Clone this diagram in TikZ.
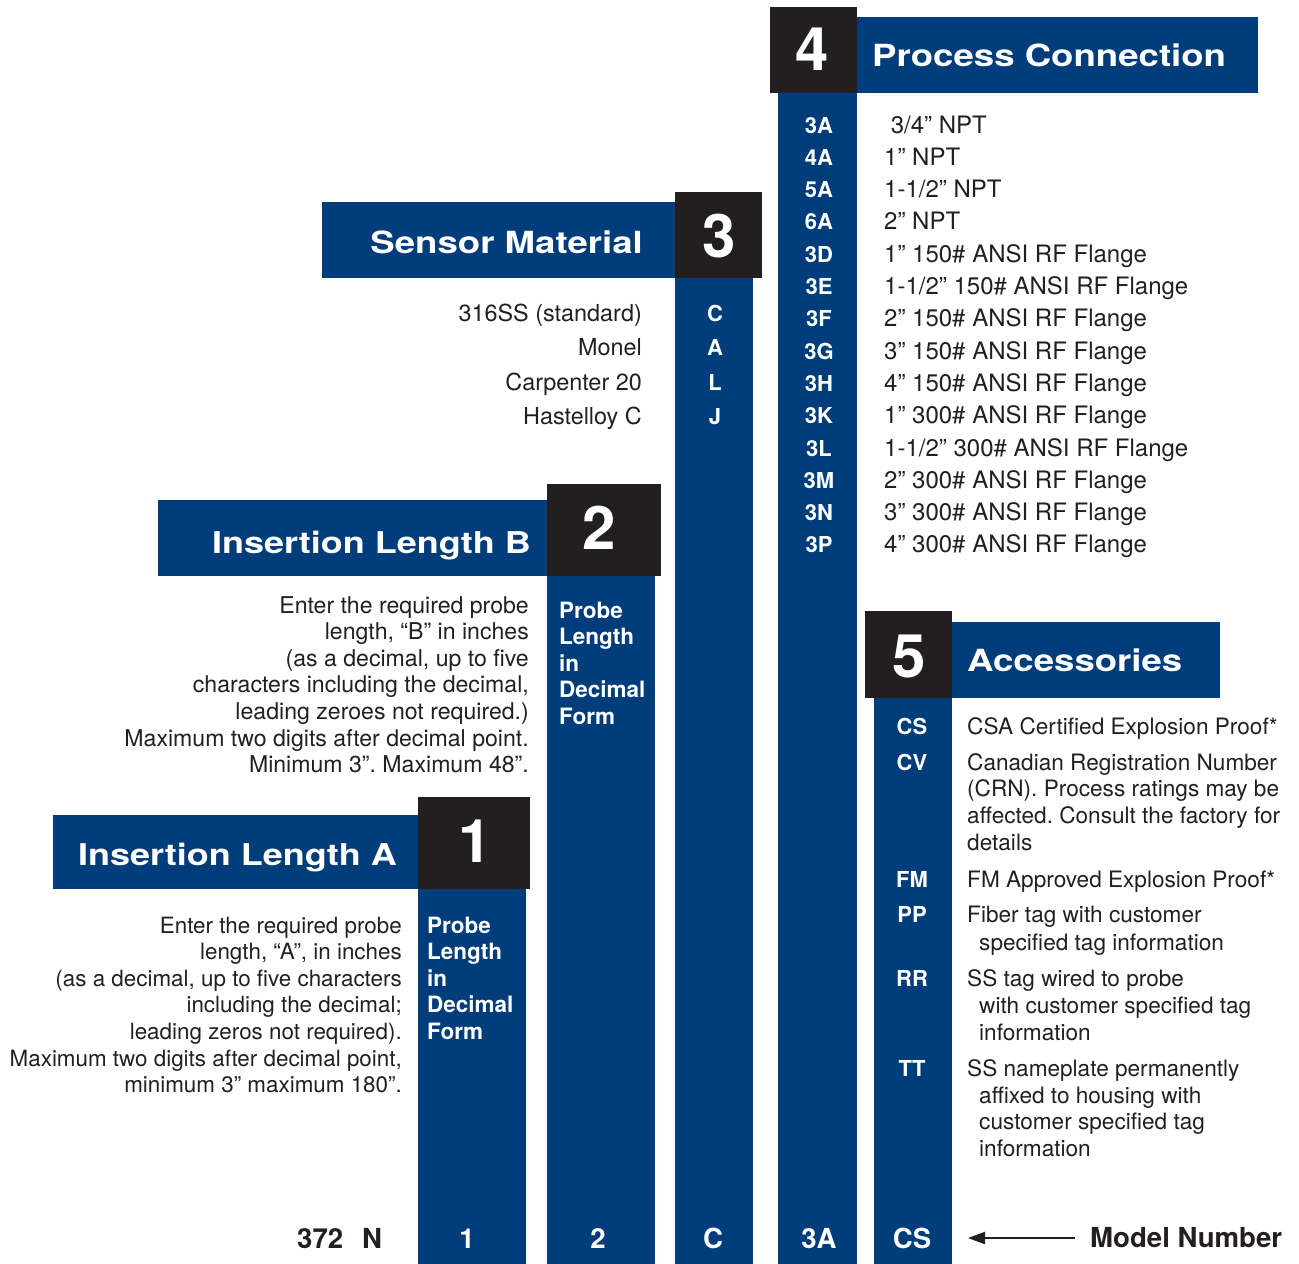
\documentclass[tikz,border=0pt]{standalone}
\usepackage{fontspec}
\setmainfont{TeX Gyre Heros}
\newfontfamily\hdfont[FakeStretch=1.2]{TeX Gyre Heros}
\usetikzlibrary{arrows.meta}
\definecolor{nblue}{RGB}{0,61,122}
\definecolor{nblack}{RGB}{35,31,32}
\definecolor{ntext}{RGB}{35,31,32}
\frenchspacing
\begin{document}
\begin{tikzpicture}[x=1pt,y=-1pt,
  hd/.style={text=white,font=\hdfont\bfseries\fontsize{30.5}{30.5}\selectfont,inner sep=0},
  digit/.style={text=white,font=\bfseries\fontsize{60}{60}\selectfont,inner sep=0},
  code/.style={text=white,font=\bfseries\fontsize{22}{22}\selectfont,inner sep=0,anchor=base},
  desc/.style={text=ntext,font=\fontsize{22.6}{22.6}\selectfont,inner sep=0},
  pdesc/.style={desc,font=\fontsize{24}{24}\selectfont},
  sdesc/.style={desc,font=\fontsize{23.4}{23.4}\selectfont},
  ldesc/.style={desc,font=\fontsize{22.4}{22.4}\selectfont},
  bdesc/.style={desc,font=\fontsize{23.1}{23.1}\selectfont},
  wlab/.style={text=white,font=\bfseries\fontsize{22.5}{22.5}\selectfont,inner sep=0,anchor=base west},
  bot/.style={font=\bfseries\fontsize{27.6}{27.6}\selectfont,inner sep=0,anchor=base},
]
\useasboundingbox (0,0) rectangle (1299,1264);
% ---- columns, header bars, number boxes
\fill[nblue] (418,889) rectangle (526,1264);
\fill[nblue] (53,815) rectangle (418,889);
\fill[nblack] (418,797) rectangle (530,889);
\fill[nblue] (547,576) rectangle (655,1264);
\fill[nblue] (158,500) rectangle (547,576);
\fill[nblack] (547,484) rectangle (661,576);
\fill[nblue] (675,278) rectangle (753,1264);
\fill[nblue] (322,202) rectangle (675,278);
\fill[nblack] (675,192) rectangle (762,278);
\fill[nblue] (778,93) rectangle (857,1264);
\fill[nblue] (857,17) rectangle (1258,93);
\fill[nblack] (770,7) rectangle (857,93);
\fill[nblue] (874,698) rectangle (952,1264);
\fill[nblue] (952,622) rectangle (1220,698);
\fill[nblack] (865,611) rectangle (952,698);
% ---- headings
\node[hd,anchor=base west] (h4) at (872,66) {Process Connection};
\node[hd,anchor=base east] (h3) at (643,253) {Sensor Material};
\node[hd,anchor=base east,font=\hdfont\bfseries\fontsize{30}{30}\selectfont] (h2) at (531,553) {Insertion Length B};
\node[hd,anchor=base east,font=\hdfont\bfseries\fontsize{30}{30}\selectfont] (h1) at (397,865) {Insertion Length A};
\node[hd,anchor=base west] (h5) at (967,671) {Accessories};
\node[digit] (d4) at (812,49) {4};
\node[digit] (d3) at (719,236) {3};
\node[digit] (d2) at (599,528) {2};
\node[digit] (d1) at (475,841) {1};
\node[digit] (d5) at (909,656) {5};
% ---- 4: process connection
\foreach \c/\t [count=\i] in {3A/{\ 3/4” NPT},4A/{1” NPT},5A/{1-1/2” NPT},6A/{2” NPT},
  3D/{1” 150\# ANSI RF Flange},3E/{1-1/2” 150\# ANSI RF Flange},3F/{2” 150\# ANSI RF Flange},
  3G/{3” 150\# ANSI RF Flange},3H/{4” 150\# ANSI RF Flange},3K/{1” 300\# ANSI RF Flange},
  3L/{1-1/2” 300\# ANSI RF Flange},3M/{2” 300\# ANSI RF Flange},3N/{3” 300\# ANSI RF Flange},
  3P/{4” 300\# ANSI RF Flange}}{
  \node[code] (pc\i) at (819,{133+32.3*(\i-1)}) {\c};
  \node[pdesc,anchor=base west] (pd\i) at (884,{133+32.3*(\i-1)}) {\t};
}
% ---- 3: sensor material
\foreach \c/\t [count=\i] in {C/{316SS (standard)},A/Monel,L/{Carpenter 20},J/{Hastelloy C}}{
  \node[code] (sc\i) at (715,{321+34.5*(\i-1)}) {\c};
  \node[sdesc,anchor=base east] (sd\i) at (642,{321+34.5*(\i-1)}) {\t};
}
% ---- 2: insertion length B
\foreach \t [count=\i] in {Enter the required probe,{length, “B” in inches},{(as a decimal, up to five},
  {characters including the decimal,},{leading zeroes not required.)},
  {Maximum two digits after decimal point.},{Minimum 3”. Maximum 48”.}}{
  \node[bdesc,anchor=base east] (bt\i) at (529,{613+26.65*(\i-1)}) {\t};
}
\foreach \t [count=\i] in {Probe,Length,in,Decimal,Form}{
  \node[wlab] (bw\i) at (559,{618+26.6*(\i-1)}) {\t};
}
% ---- 1: insertion length A
\foreach \t [count=\i] in {Enter the required probe,{length, “A”, in inches},
  {(as a decimal, up to five characters},{including the decimal;},{leading zeros not required).},
  {Maximum two digits after decimal point,},{minimum 3” maximum 180”.}}{
  \node[ldesc,anchor=base east] (at\i) at (402,{933+26.65*(\i-1)}) {\t};
}
\foreach \t [count=\i] in {Probe,Length,in,Decimal,Form}{
  \node[wlab] (aw\i) at (427,{933+26.6*(\i-1)}) {\t};
}
% ---- 5: accessories
\node[code] (ac1) at (912,734) {CS};
\node[code] (ac2) at (912,770) {CV};
\node[code] (ac3) at (912,887) {FM};
\node[code] (ac4) at (912,922) {PP};
\node[code] (ac5) at (912,986) {RR};
\node[code] (ac6) at (912,1076) {TT};
\node[desc,anchor=base west] (ad1) at (967,734) {CSA Certified Explosion Proof*};
\foreach \t [count=\i] in {Canadian Registration Number,{(CRN). Process ratings may be},
  {affected. Consult the factory for},details}{
  \node[desc,anchor=base west] (cv\i) at (967,{770+26.8*(\i-1)}) {\t};
}
\node[desc,anchor=base west] (ad3) at (967,887) {FM Approved Explosion Proof*};
\node[desc,anchor=base west] (pp1) at (967,922) {Fiber tag with customer};
\node[desc,anchor=base west] (pp2) at (979,950) {specified tag information};
\node[desc,anchor=base west] (rr1) at (967,986) {SS tag wired to probe};
\node[desc,anchor=base west] (rr2) at (979,1013) {with customer specified tag};
\node[desc,anchor=base west] (rr3) at (979,1040) {information};
\node[desc,anchor=base west] (tt1) at (967,1076) {SS nameplate permanently};
\node[desc,anchor=base west] (tt2) at (979,1103) {affixed to housing with};
\node[desc,anchor=base west] (tt3) at (979,1129) {customer specified tag};
\node[desc,anchor=base west] (tt4) at (979,1156) {information};
% ---- model number row
\node[bot,anchor=base west,text=ntext] (m0) at (297,1248) {372};
\node[bot,anchor=base west,text=ntext] (mN) at (362,1248) {N};
\node[bot,text=white] (m1) at (467,1248) {1};
\node[bot,text=white] (m2) at (598,1248) {2};
\node[bot,text=white] (m3) at (713,1248) {C};
\node[bot,text=white] (m4) at (819,1248) {3A};
\node[bot,text=white] (m5) at (912,1248) {CS};
\node[bot,anchor=west,text=ntext] (mn) at (1090,1238) {Model Number};
\coordinate (tip) at (968,1238);
\draw[ntext,line width=2pt,-{Triangle[length=17pt,width=12pt]}] ([xshift=-15pt]mn.west) -- (tip);
\end{tikzpicture}
\end{document}
